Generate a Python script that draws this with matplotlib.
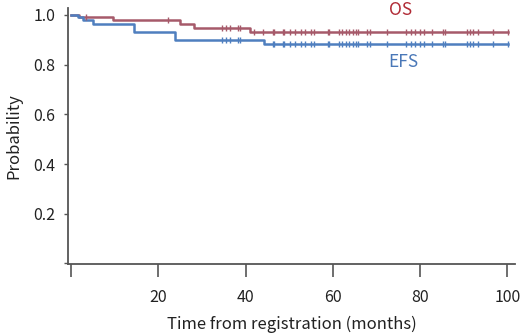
import numpy as np
import matplotlib as mpl
mpl.use("Agg")
import matplotlib.pyplot as plt

mpl.rcParams['font.family'] = ['Noto Sans CJK JP', 'DejaVu Sans']

# step data (months, probability)
os_times = [0, 1.8, 9.6, 24.9, 28.1, 40.9, 100.1]
os_surv = [1.0, 0.99, 0.978, 0.963, 0.948, 0.93, 0.93]

efs_times = [0, 1.6, 2.7, 5.0, 14.5, 23.9, 44.2, 100.1]
efs_surv = [1.0, 0.99, 0.978, 0.963, 0.93, 0.90, 0.885, 0.885]

# censoring marks (months)
os_cens = [3.5, 22.2, 34.5, 35.4, 36.4, 38.2, 38.6, 41.8, 43.9, 46.2, 46.4,
           48.5, 48.7, 50.1, 51.4, 52.6, 53.7, 54.9, 55.6, 58.8, 59.0, 61.5,
           62.2, 62.9, 63.6, 64.5, 65.2, 65.8, 67.9, 68.6, 72.5, 76.8, 78.0,
           78.9, 80.0, 80.9, 82.8, 85.3, 85.7, 90.8, 91.5, 92.2, 93.3, 96.7,
           100.1]
efs_cens = [34.5, 35.4, 36.4, 38.2, 38.6, 46.2, 46.4, 48.5, 48.7, 50.1, 51.4,
            52.6, 53.7, 54.9, 55.6, 58.8, 59.0, 61.5, 62.2, 62.9, 63.6, 64.5,
            65.2, 65.8, 67.9, 68.6, 72.5, 76.8, 78.0, 78.9, 80.0, 80.9, 82.8,
            85.3, 85.7, 90.8, 91.5, 92.2, 93.3, 96.7, 100.1]

xticks = [0, 20, 40, 60, 80, 100]
xticklabels = ['', '20', '40', '60', '80', '100']
yticks = [0, 0.2, 0.4, 0.6, 0.8, 1.0]
yticklabels = ['', '0.2', '0.4', '0.6', '0.8', '1.0']

os_col = '#a65a6a'
efs_col = '#4f7fbf'
axcol = '#555555'


def step_at(times, surv, t):
    idx = np.searchsorted(times, t, side='right') - 1
    return np.asarray(surv)[idx]


fig = plt.figure(figsize=(5.2, 3.34), dpi=100)
ax = fig.add_axes([0.131, 0.21, 0.859, 0.766])

ax.plot(os_times, os_surv, drawstyle='steps-post', color=os_col, lw=1.8)
ax.plot(efs_times, efs_surv, drawstyle='steps-post', color=efs_col, lw=1.8)
ax.plot(os_cens, step_at(os_times, os_surv, os_cens), linestyle='None',
        marker='|', ms=4.5, mew=1, color=os_col)
ax.plot(efs_cens, step_at(efs_times, efs_surv, efs_cens), linestyle='None',
        marker='|', ms=4.5, mew=1, color=efs_col)

ax.text(75.5, 1.021, 'OS', color='#b02a35', fontsize=12.5, ha='center', va='center')
ax.text(76.2, 0.809, 'EFS', color='#4a78b8', fontsize=12.5, ha='center', va='center')

ax.set_xlim(-0.7, 101.7)
ax.set_ylim(-0.002, 1.028)
ax.set_xticks(xticks)
ax.set_xticklabels(xticklabels)
ax.set_yticks(yticks)
ax.set_yticklabels(yticklabels)

for s in ['top', 'right']:
    ax.spines[s].set_visible(False)
for s in ['left', 'bottom']:
    ax.spines[s].set_color(axcol)
    ax.spines[s].set_linewidth(1.3)

ax.tick_params(axis='x', direction='out', length=9, width=1.2, color=axcol,
               pad=9, labelsize=11.5, labelcolor='#222222')
ax.tick_params(axis='y', direction='out', length=3, width=1, color=axcol,
               pad=6, labelsize=11.5, labelcolor='#222222')

ax.set_xlabel('Time from registration (months)', fontsize=12, color='#222222', labelpad=7)
ax.set_ylabel('Probability', fontsize=12, color='#222222', labelpad=8)

fig.savefig('out.png', dpi=100)
